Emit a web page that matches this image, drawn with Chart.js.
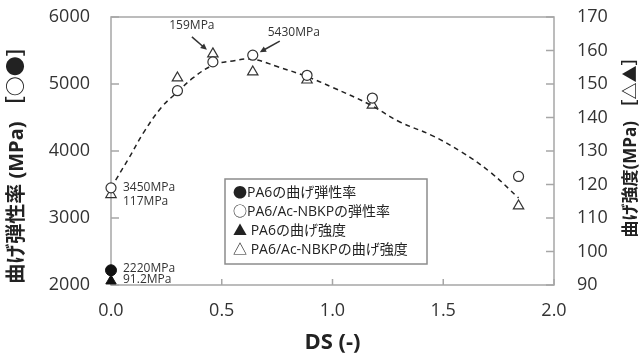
<!DOCTYPE html>
<html>
<head>
<meta charset="utf-8">
<script src="https://cdn.jsdelivr.net/npm/chart.js@4.4.1/dist/chart.umd.min.js"></script>
<style>
  html, body { margin: 0; padding: 0; background: #fff; }
  #wrap { width: 641px; height: 358px; }
</style>
</head>
<body>
<div id="wrap"><canvas id="chartCanvas" width="641" height="358"></canvas></div>
<script>
// DS (degree of substitution) of the composites
const dsValues = [0, 0.30, 0.46, 0.64, 0.885, 1.18, 1.84];
const compositeModulus = [3450, 4900, 5330, 5430, 5130, 4790, 3620];
const compositeStrength = [117, 151.8, 159, 153.6, 151.2, 143.7, 113.6];

// neat PA6
const pa6DS = [0];
const pa6Modulus = [2220];
const pa6Strength = [91.2];

// dashed trend curve
const fitDS = [0, 0.08, 0.15, 0.23, 0.30, 0.37, 0.46, 0.55, 0.64, 0.75, 0.885, 1.0, 1.17, 1.30, 1.45, 1.58, 1.71, 1.84];
const fitModulus = [3450, 3890, 4290, 4660, 4880, 5090, 5280, 5345, 5370, 5260, 5110, 4950, 4690, 4440, 4230, 3990, 3690, 3300];

const xTicks = [0, 0.5, 1.0, 1.5, 2.0];
const legendLabels = ['●PA6の曲げ弾性率', '○PA6/Ac-NBKPの弾性率', '▲ PA6の曲げ強度', '△ PA6/Ac-NBKPの曲げ強度'];
const leftTitle = '曲げ弾性率 (MPa) ［○●］';
const rightTitle = '曲げ強度(MPa) ［△▲］';
const xTitle = 'DS (-)';

const FONT = "'Open Sans', 'Noto Sans CJK JP', sans-serif";
const AXIS = '#a6a6a6';
const INK = '#333';

const pts = (xs, ys) => xs.map((x, i) => ({ x: x, y: ys[i] }));
const noPad = s => { s.paddingTop = 0; s.paddingBottom = 0; s.paddingLeft = 0; s.paddingRight = 0; };

// box, inward ticks, titles, legend, notes
const decor = {
  id: 'decor',
  beforeDatasetsDraw(chart) {
    const { ctx, chartArea: a, scales } = chart;
    ctx.save();
    ctx.strokeStyle = AXIS;
    ctx.lineWidth = 1.5;
    ctx.strokeRect(a.left, a.top, a.right - a.left, a.bottom - a.top);
    ctx.beginPath();
    scales.y.ticks.forEach(t => {
      const py = scales.y.getPixelForValue(t.value);
      ctx.moveTo(a.left, py); ctx.lineTo(a.left + 8, py);
    });
    scales.y1.ticks.forEach(t => {
      const py = scales.y1.getPixelForValue(t.value);
      ctx.moveTo(a.right, py); ctx.lineTo(a.right - 8, py);
    });
    scales.x.ticks.forEach(t => {
      const px = scales.x.getPixelForValue(t.value);
      ctx.moveTo(px, a.bottom); ctx.lineTo(px, a.bottom - 6);
    });
    ctx.stroke();
    ctx.restore();
  },
  afterDraw(chart) {
    const { ctx, scales } = chart;
    const xs = scales.x, ym = scales.y, ys = scales.y1;
    ctx.save();
    ctx.fillStyle = '#222';
    ctx.textBaseline = 'middle';

    // vertical titles
    ctx.font = "bold 20px " + FONT;
    ctx.save();
    ctx.translate(17, 160);
    ctx.rotate(-Math.PI / 2);
    ctx.textAlign = 'center';
    ctx.fillText(leftTitle, 0, 0);
    ctx.restore();

    ctx.font = "bold 17px " + FONT;
    ctx.save();
    ctx.translate(631, 143);
    ctx.rotate(-Math.PI / 2);
    ctx.textAlign = 'center';
    ctx.fillText(rightTitle, 0, 0);
    ctx.restore();

    // legend box
    ctx.strokeStyle = '#8c8c8c';
    ctx.lineWidth = 1.5;
    ctx.strokeRect(225, 179, 202, 85);
    ctx.font = "14px " + FONT;
    ctx.textAlign = 'left';
    legendLabels.forEach((lab, i) => {
      ctx.fillText(lab, 233, 193 + i * 19);
    });

    // value notes
    ctx.fillStyle = INK;
    ctx.font = "12px " + FONT;
    const x0 = xs.getPixelForValue(0);
    ctx.fillText(compositeModulus[0] + 'MPa', x0 + 12, ym.getPixelForValue(compositeModulus[0]));
    ctx.fillText(compositeStrength[0] + 'MPa', x0 + 12, ys.getPixelForValue(compositeStrength[0]) + 7);
    ctx.fillText(pa6Modulus[0] + 'MPa', x0 + 12, ym.getPixelForValue(pa6Modulus[0]) - 2);
    ctx.fillText(pa6Strength[0] + 'MPa', x0 + 12, ys.getPixelForValue(pa6Strength[0]) - 1);

    const arrow = (fx, fy, tx, ty) => {
      const ang = Math.atan2(ty - fy, tx - fx);
      ctx.strokeStyle = INK;
      ctx.lineWidth = 1.5;
      ctx.beginPath();
      ctx.moveTo(fx, fy);
      ctx.lineTo(tx - Math.cos(ang) * 4, ty - Math.sin(ang) * 4);
      ctx.stroke();
      ctx.beginPath();
      ctx.moveTo(tx, ty);
      ctx.lineTo(tx - 7 * Math.cos(ang - 0.45), ty - 7 * Math.sin(ang - 0.45));
      ctx.lineTo(tx - 7 * Math.cos(ang + 0.45), ty - 7 * Math.sin(ang + 0.45));
      ctx.closePath();
      ctx.fill();
    };

    ctx.textAlign = 'center';
    const tx = xs.getPixelForValue(dsValues[2]), ty = ys.getPixelForValue(compositeStrength[2]);
    ctx.fillText(compositeStrength[2] + 'MPa', tx - 21, ty - 28);
    arrow(tx - 21, ty - 17, tx - 6, ty - 4);

    const cx = xs.getPixelForValue(dsValues[3]), cy = ym.getPixelForValue(compositeModulus[3]);
    ctx.fillText(compositeModulus[3] + 'MPa', cx + 41, cy - 23);
    arrow(cx + 27, cy - 14, cx + 7, cy - 3);

    ctx.restore();
  }
};

const ctx = document.getElementById('chartCanvas').getContext('2d');
new Chart(ctx, {
  type: 'scatter',
  data: {
    datasets: [
      {
        label: 'fit',
        type: 'line',
        data: pts(fitDS, fitModulus),
        yAxisID: 'y',
        borderColor: '#222',
        borderWidth: 1.5,
        borderDash: [5, 4],
        pointRadius: 0,
        tension: 0.4,
        fill: false,
        order: 5
      },
      {
        label: legendLabels[0],
        data: pts(pa6DS, pa6Modulus),
        yAxisID: 'y',
        pointStyle: 'circle',
        pointRadius: 5.5,
        backgroundColor: '#111',
        borderColor: '#111',
        borderWidth: 1,
        clip: false
      },
      {
        label: legendLabels[1],
        data: pts(dsValues, compositeModulus),
        yAxisID: 'y',
        pointStyle: 'circle',
        pointRadius: 5,
        backgroundColor: '#fff',
        borderColor: INK,
        borderWidth: 1.2,
        clip: false
      },
      {
        label: legendLabels[2],
        data: pts(pa6DS, pa6Strength),
        yAxisID: 'y1',
        pointStyle: 'triangle',
        pointRadius: 6,
        backgroundColor: '#111',
        borderColor: '#111',
        borderWidth: 1,
        clip: false
      },
      {
        label: legendLabels[3],
        data: pts(dsValues, compositeStrength),
        yAxisID: 'y1',
        pointStyle: 'triangle',
        pointRadius: 6,
        backgroundColor: 'rgba(255,255,255,0)',
        borderColor: INK,
        borderWidth: 1.2,
        clip: false
      }
    ]
  },
  options: {
    responsive: false,
    animation: false,
    layout: { padding: { top: 17, left: 0, right: 0, bottom: 0 } },
    plugins: {
      legend: { display: false },
      tooltip: { enabled: false }
    },
    scales: {
      x: {
        type: 'linear',
        min: 0,
        max: 2,
        afterBuildTicks: s => { s.ticks = xTicks.map(v => ({ value: v })); },
        afterFit: s => { s.height = 73; noPad(s); },
        grid: { display: false, drawTicks: false },
        border: { display: false },
        ticks: {
          padding: 15,
          color: INK,
          font: { family: FONT, size: 18 },
          callback: v => Number(v).toFixed(1)
        },
        title: {
          display: true,
          text: xTitle,
          color: '#222',
          font: { family: FONT, size: 22, weight: 'bold' },
          padding: { bottom: 2, top: 0 }
        }
      },
      y: {
        position: 'left',
        min: 2000,
        max: 6000,
        afterFit: s => { s.width = 111; noPad(s); },
        grid: { display: false, drawTicks: false },
        border: { display: false },
        ticks: { stepSize: 1000, padding: 21, color: INK, font: { family: FONT, size: 18 }, callback: v => String(v) }
      },
      y1: {
        position: 'right',
        min: 90,
        max: 170,
        afterFit: s => { s.width = 87; noPad(s); },
        grid: { display: false, drawTicks: false },
        border: { display: false },
        ticks: { stepSize: 10, padding: 23, color: INK, font: { family: FONT, size: 18 }, callback: v => String(v) }
      }
    }
  },
  plugins: [decor]
});
</script>
</body>
</html>
